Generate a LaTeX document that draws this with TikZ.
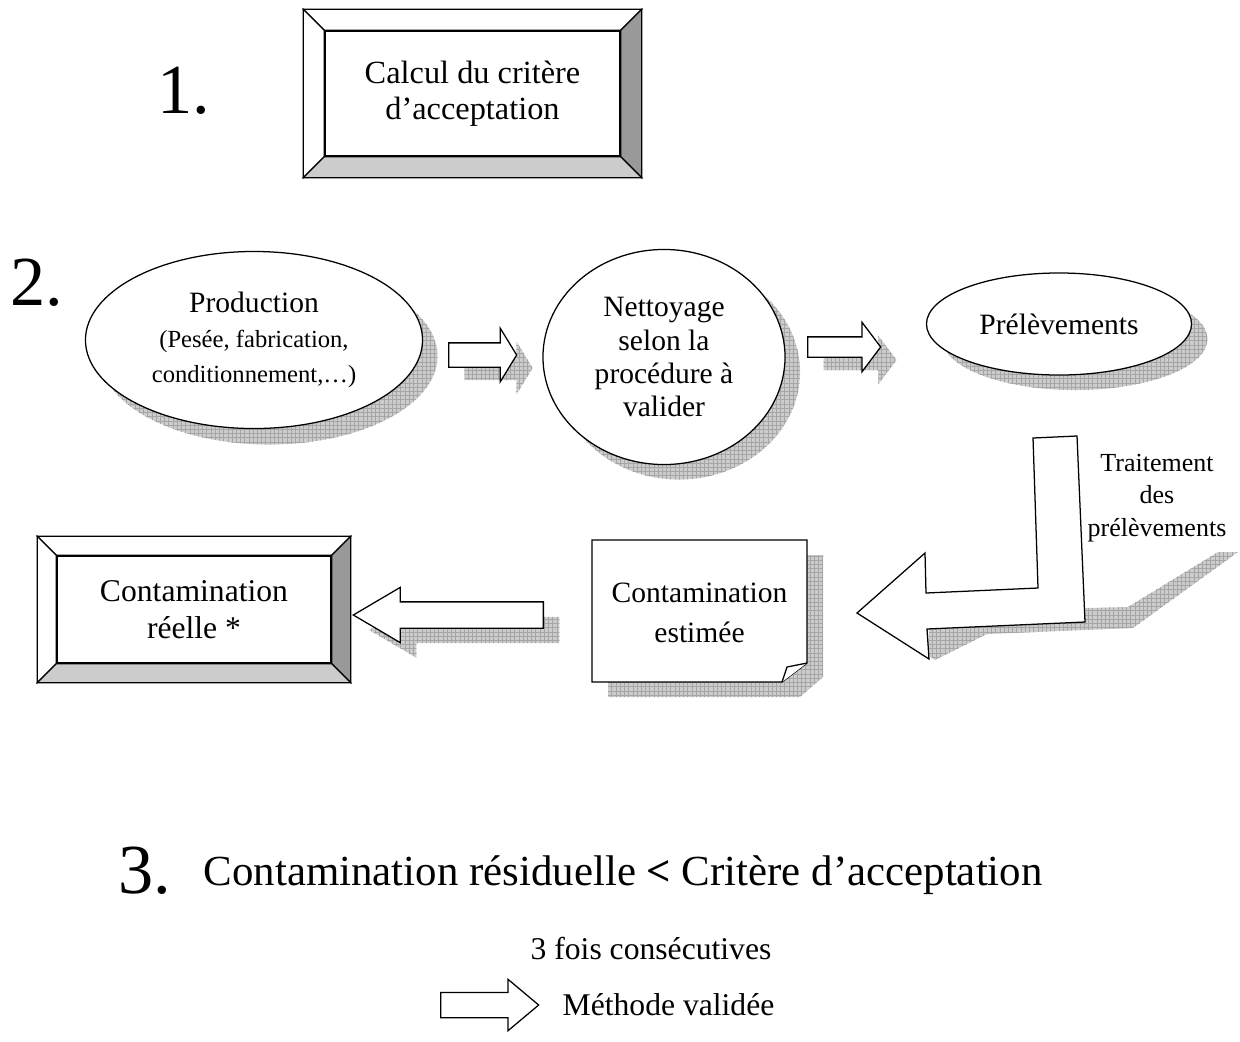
\documentclass[tikz,border=0pt]{standalone}
\usepackage{fontspec}
\setmainfont{Liberation Serif}
\usetikzlibrary{shapes.geometric,shapes.arrows,calc,patterns}

% raised frame round a named node: #1 node, #2 bevel size
\newcommand{\bevelframe}[2]{%
  \draw[fill=white] ($(#1.north west)+(-#2,-#2)$) -- ($(#1.north east)+(#2,-#2)$) -- (#1.north east) -- (#1.north west) -- cycle;
  \draw[fill=white] ($(#1.north west)+(-#2,-#2)$) -- (#1.north west) -- (#1.south west) -- ($(#1.south west)+(-#2,#2)$) -- cycle;
  \draw[fill=gray!80] ($(#1.north east)+(#2,-#2)$) -- ($(#1.south east)+(#2,#2)$) -- (#1.south east) -- (#1.north east) -- cycle;
  \draw[fill=gray!40] ($(#1.south west)+(-#2,#2)$) -- (#1.south west) -- (#1.south east) -- ($(#1.south east)+(#2,#2)$) -- cycle;
}
\newcommand{\subsize}{\fontsize{17.5}{20}\selectfont}

\begin{document}
\begin{tikzpicture}[
    x=0.025cm, y=-0.025cm,
    line width=0.9pt,
    font=\fontsize{21}{25}\selectfont,
    panel/.style={
		rectangle,
		draw=black,
		fill=white,
		align=center,
		inner sep=0,
		font=\fontsize{23}{26}\selectfont
	},
	oval/.style={
		ellipse,
		draw=black,
		fill=white,
		align=center,
		inner sep=0
	},
	shadowfill/.style={
		fill=gray!40,
		draw=none,
		postaction={pattern=grid, pattern color=gray!70}
	},
	blockarrow/.style={
		single arrow,
		draw=black,
		fill=white,
		inner sep=0,
		anchor=tail
	},
	arrshort/.style={
		minimum height=1.7cm,
		minimum width=1.3cm,
		inner ysep=0.2875cm,
		single arrow head extend=0.3625cm,
		single arrow tip angle=117
	},
	arrshorter/.style={
		minimum height=1.825cm,
		minimum width=1.2cm,
		inner ysep=0.2375cm,
		single arrow head extend=0.3625cm,
		single arrow tip angle=106
	},
	arrlong/.style={
		shape border rotate=180,
		minimum height=4.75cm,
		minimum width=1.35cm,
		inner ysep=0.3125cm,
		single arrow head extend=0.3625cm,
		single arrow tip angle=61
	},
	arrend/.style={
		minimum height=2.45cm,
		minimum width=1.25cm,
		inner ysep=0.3cm,
		single arrow head extend=0.325cm,
		single arrow tip angle=80
	},
	bignum/.style={
		font=\fontsize{50}{60}\selectfont,
		inner sep=0
	},
	plain/.style={
		inner sep=0
	}
  ]
\useasboundingbox (0,0) rectangle (1240,1041);

% // Step 1
\node[bignum, anchor=base] (num1) at (184,113) {1.};
\node[panel, minimum width=7.375cm, minimum height=3.125cm] (crit) at (472.5,93.5) {Calcul du critère\\d’acceptation};
\bevelframe{crit}{21}

% // Step 2
\node[bignum, anchor=base] (num2) at (37,305) {2.};

% shadows first
\node[oval, shadowfill, minimum width=8.425cm, minimum height=4.425cm] (prodsh) at (269,356) {};
\node[oval, shadowfill, minimum width=6.05cm, minimum height=5.375cm] (cleansh) at (679,372) {};
\node[oval, shadowfill, minimum width=6.625cm, minimum height=2.55cm] (samplesh) at (1075,339) {};
\node[blockarrow, arrshort, shadowfill] (arr1sh) at (464,368) {};
\node[blockarrow, arrshorter, shadowfill] (arr2sh) at (823,360) {};

\node[oval, minimum width=8.425cm, minimum height=4.425cm] (prod) at (254,340)
 {Production\\\subsize(Pesée, fabrication,\\\subsize conditionnement,…)};
\node[oval, minimum width=6.05cm, minimum height=5.375cm, font=\fontsize{21}{23.5}\selectfont] (clean) at (664,357)
 {Nettoyage\\selon la\\procédure à\\valider};
\node[oval, minimum width=6.625cm, minimum height=2.55cm] (sample) at (1059,324) {\raisebox{-6pt}{Prélèvements}};

\node[blockarrow, arrshort] (arr1) at (448,355) {};
\node[blockarrow, arrshorter] (arr2) at (807,347) {};

% // bent arrow
\path[shadowfill] (935,660) -- (987,634) -- (1133,628) -- (1238,552) -- (1218,552) -- (1128,607) -- (930,612) -- (928,655) -- cycle;
\draw[fill=white] (1033,438) -- (1077,436) -- (1085,622) -- (927,629) -- (929,659) -- (857,613) -- (925,553) -- (926,593) -- (1038,588) -- cycle;
\node[plain, align=center, font=\fontsize{18.5}{23}\selectfont] (treat) at (1157,498) {Traitement\\des\\prélèvements};

% // estimated contamination
\path[shadowfill] (608,555) -- (823,555) -- (823,677) -- (800,697) -- (608,697) -- cycle;
\draw[fill=white] (592,540) -- (807,540) -- (807,663) -- (782,682) -- (592,682) -- cycle;
\draw[fill=white] (782,682) .. controls (785,675) .. (787,667) -- (807,663);
\node[plain, align=center, font=\fontsize{21}{28}\selectfont] (doc) at (699.5,613) {Contamination\\estimée};

\node[blockarrow, arrlong, shadowfill] (arr3sh) at (560,630) {};
\node[blockarrow, arrlong] (arr3) at (544,615) {};

\node[panel, minimum width=6.85cm, minimum height=2.675cm, font=\fontsize{22.5}{26}\selectfont] (real) at (194,609.5) {Contamination\\réelle *};
\bevelframe{real}{19}

% // Step 3
\node[bignum, anchor=base east] (num3) at (172,893) {3.};
\node[plain, anchor=base west, font=\fontsize{30.5}{36}\selectfont] (rule) at (203,885) {Contamination résiduelle \textbf{<} Critère d’acceptation};
\node[plain, font=\fontsize{22.5}{27}\selectfont] (times) at (651,948) {3 fois consécutives};
\node[blockarrow, arrend] (arr4) at (440,1005) {};
\node[plain, anchor=west, font=\fontsize{22.5}{27}\selectfont] (valid) at (562,1005) {Méthode validée};

\end{tikzpicture}
\end{document}
